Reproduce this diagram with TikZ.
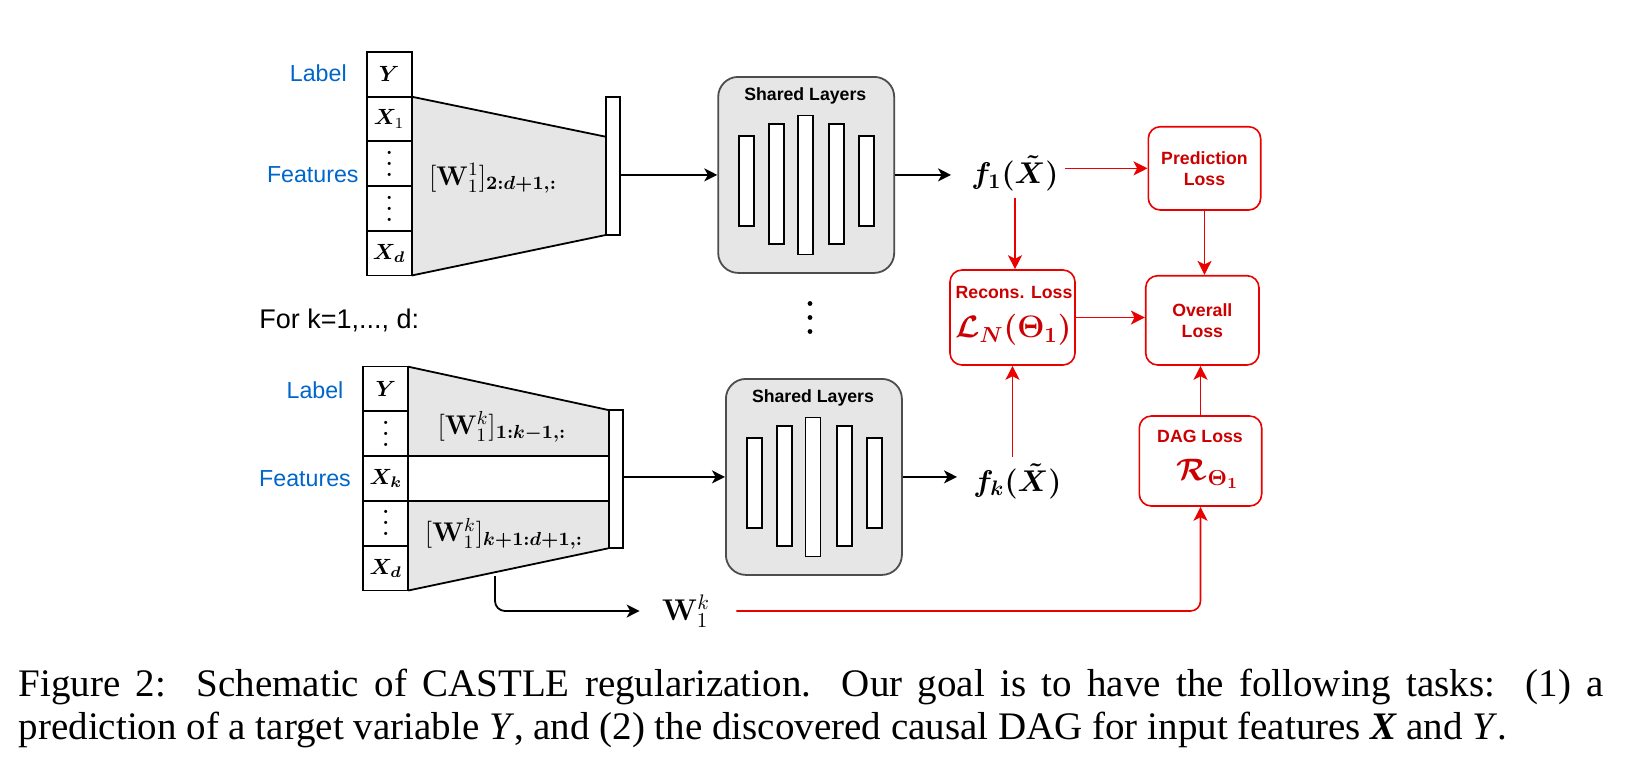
\RequirePackage{fix-cm}
\documentclass[tikz,border=0pt]{standalone}
\usepackage{amsmath,bm}
\usepackage[no-math]{fontspec}
\setsansfont{Liberation Sans}
\newfontfamily\capfont{Liberation Serif}
\usetikzlibrary{arrows.meta,calc}

\definecolor{lblue}{RGB}{0,102,204}
\definecolor{lgray}{RGB}{230,230,230}
\definecolor{lred}{RGB}{235,0,0}
\definecolor{tred}{RGB}{204,0,0}
\definecolor{bgray}{RGB}{77,77,77}

\newcommand{\myvdots}{\vbox{\baselineskip5.5pt\lineskiplimit0pt\hbox{\bfseries .}\hbox{\bfseries .}\hbox{\bfseries .}}}

\tikzset{
  cell/.style={draw, line width=0.9pt, fill=white, minimum width=22.5pt, minimum height=22.4pt, inner sep=0pt, font=\fontsize{11}{12}\selectfont},
  barbox/.style={draw, line width=0.9pt, fill=white, inner sep=0pt, minimum width=7.2pt, minimum height=69.15pt},
  layerbox/.style={draw, line width=0.9pt, fill=white, inner sep=0pt, minimum width=7.5pt},
  shbox/.style={draw=bgray, line width=0.9pt, fill=lgray, rounded corners=10pt, minimum width=88pt, minimum height=98pt, inner sep=0pt},
  lossbox/.style={draw=lred, line width=0.8pt, rounded corners=6pt, inner sep=0pt, text=tred, font=\sffamily\bfseries\fontsize{8.85}{10.4}\selectfont, align=center},
  redtxt/.style={text=tred, inner sep=0pt, font=\sffamily\bfseries\fontsize{8.85}{10.4}\selectfont},
  redmath/.style={text=tred, inner sep=0pt, font=\fontsize{15.5}{17}\selectfont},
  bluelab/.style={text=lblue, inner sep=0pt, font=\sffamily\fontsize{11.6}{13}\selectfont},
  wlab/.style={inner sep=0pt, font=\fontsize{13.5}{15}\selectfont},
  flab/.style={inner sep=3pt, font=\fontsize{15}{17}\selectfont},
  sltitle/.style={inner sep=0pt, font=\sffamily\bfseries\fontsize{8.85}{10.4}\selectfont},
  arr/.style={-{Stealth[length=6.5pt,width=6.5pt,inset=1.8pt]}, line width=0.9pt},
  rarr/.style={-{Stealth[length=7pt,width=7pt,inset=1.8pt]}, line width=0.8pt, draw=lred},
  edge/.style={line width=0.9pt}
}

\newcommand{\sharedbox}[3]{%
  \node[shbox, anchor=north west] (#1) at (#2,#3) {};
  \node[sltitle] (#1-t) at ($(#1.north west)+(88,20)$) {Shared Layers};
  \node[layerbox, minimum height=45pt]   (#1-a) at ($(#1.north west)+(29.5,105)$) {};
  \node[layerbox, minimum height=60pt]   (#1-b) at ($(#1.north west)+(59.5,108)$) {};
  \node[layerbox, minimum height=69.5pt] (#1-c) at ($(#1.north west)+(88,109)$) {};
  \node[layerbox, minimum height=60pt]   (#1-d) at ($(#1.north west)+(119.5,108)$) {};
  \node[layerbox, minimum height=45pt]   (#1-e) at ($(#1.north west)+(149.5,105)$) {};
}

\begin{document}
\begin{tikzpicture}[x=0.5pt,y=-0.5pt]
\fill[white] (0,0) rectangle (1646,768);
\useasboundingbox (0,0) rectangle (1646,768);

% ---------- top block ----------
\fill[lgray] (411.7,96.7) -- (605.7,136.7) -- (605.7,235) -- (411.7,275.5) -- cycle;
\draw[edge] (411.7,96.7) -- (605.7,136.7);
\draw[edge] (605.7,235) -- (411.7,275.5);
\node[cell] (ty)  at (389.2,74.35)  {$\boldsymbol{Y}$};
\node[cell] (tx1) at (389.2,119.05) {$\boldsymbol{X}_1$};
\node[cell] (td1) at (389.2,163.75) {\myvdots};
\node[cell] (td2) at (389.2,208.45) {\myvdots};
\node[cell] (txd) at (389.2,253.15) {$\boldsymbol{X}_{\boldsymbol{d}}$};
\node[barbox] (bar1) at (612.85,165.85) {};
\node[wlab] (tw) at (493,178) {$[\mathbf{W}^1_1]_{\boldsymbol{2:d+1,:}}$};
\node[bluelab] (tlab) at (318.3,73) {Label};
\node[bluelab] (tfeat) at (312.8,175) {Features};

\sharedbox{sh1}{717.3}{76}
\draw[arr] (bar1.east |- sh1.west) -- (sh1.west);

\node[flab] (f1) at (1015,173.3) {$\boldsymbol{f_1(\tilde{X})}$};
\draw[arr, shorten >=7pt] (sh1.east) -- (sh1.east -| f1.west);

% ---------- middle ----------
\node[anchor=west, inner sep=0pt, font=\sffamily\fontsize{13.5}{15}\selectfont] (fork) at (259,320) {For k=1,..., d:};
\fill (810,303.5) circle (1.2pt);
\fill (810,317.5) circle (1.2pt);
\fill (810,331.5) circle (1.2pt);

% ---------- bottom block ----------
\fill[lgray] (408.3,366.7) -- (608.3,410) -- (608.3,548.3) -- (408.3,590.5) -- cycle;
\fill[white] (408.3,456.1) rectangle (608.3,500.9);
\draw[edge] (408.3,366.7) -- (608.3,410);
\draw[edge] (608.3,548.3) -- (408.3,590.5);
\draw[edge] (408.3,456.1) -- (608.3,456.1);
\draw[edge] (408.3,500.9) -- (608.3,500.9);
\node[cell] (by)  at (385.8,388.9) {$\boldsymbol{Y}$};
\node[cell] (bd1) at (385.8,433.7) {\myvdots};
\node[cell] (bxk) at (385.8,478.5) {$\boldsymbol{X}_{\boldsymbol{k}}$};
\node[cell] (bd2) at (385.8,523.3) {\myvdots};
\node[cell] (bxd) at (385.8,568.1) {$\boldsymbol{X}_{\boldsymbol{d}}$};
\node[barbox] (bar2) at (615.8,479.15) {};
\node[wlab] (bw1) at (502,427) {$[\mathbf{W}^k_1]_{\boldsymbol{1:k-1,:}}$};
\node[wlab] (bw2) at (504,534) {$[\mathbf{W}^k_1]_{\boldsymbol{k+1:d+1,:}}$};
\node[bluelab] (blab) at (315,390) {Label};
\node[bluelab] (bfeat) at (305,478.3) {Features};

\sharedbox{sh2}{725}{378}
\draw[arr] (bar2.east |- sh2.west) -- (sh2.west);

\node[flab] (fk) at (1017.5,481) {$\boldsymbol{f_k(\tilde{X})}$};
\draw[arr, shorten >=5pt] (sh2.east) -- (sh2.east -| fk.west);

\node[inner sep=3pt, font=\fontsize{15}{17}\selectfont] (wk) at (686,611) {$\mathbf{W}_1^k$};
\coordinate (tb) at (495,576);
\draw[arr, rounded corners=5pt, shorten >=8pt] (tb) |- (wk.west);

% ---------- losses ----------
\node[lossbox, minimum width=56.2pt, minimum height=41.65pt] (pred) at (1204.5,168.35) {Prediction\\Loss};
\node[lossbox, minimum width=56.65pt, minimum height=44.65pt] (ovl) at (1202.35,320.35) {Overall\\Loss};
\node[lossbox, minimum width=62.5pt, minimum height=47.5pt] (rec) at (1012.5,317.5) {};
\node[redtxt] (rect) at (1014,292.7) {Recons. Loss};
\node[redmath] (recm) at (1013.3,330) {$\boldsymbol{\mathcal{L}_N(\Theta_1)}$};
\node[lossbox, minimum width=61.2pt, minimum height=45pt] (dag) at (1200.5,461) {};
\node[redtxt] (dagt) at (1200,436) {DAG Loss};
\node[redmath] (dagm) at (1208,474) {$\boldsymbol{\mathcal{R}_{\Theta_1}}$};

\draw[rarr] (f1.east |- pred.west) -- (pred.west);
\draw[rarr] (f1.south) -- (f1.south |- rec.north);
\draw[rarr] (rec.east) -- (rec.east -| ovl.west);
\draw[rarr] (pred.south) -- (pred.south |- ovl.north);
\draw[rarr] (dag.north) -- (dag.north |- ovl.south);
\draw[rarr] (rec.south |- fk.north) -- (rec.south);
\draw[rarr, rounded corners=5pt, shorten <=10pt] (wk.east) -- (wk.east -| dag.south) -- (dag.south);

% ---------- caption ----------
\node[anchor=base west, inner sep=0pt, text width=792.5pt, align=justify,
      font=\capfont\fontsize{19.5}{21.5}\selectfont] (cap) at (18.3,696)
 {Figure 2:\ \ Schematic of CASTLE regularization.\ \ Our goal is to have the following tasks:\ \ (1) a\linebreak
  prediction of a target variable {\itshape Y\/}, and (2) the discovered causal DAG for input features {\bfseries\itshape X} and {\itshape Y\/}.};
\end{tikzpicture}
\end{document}
